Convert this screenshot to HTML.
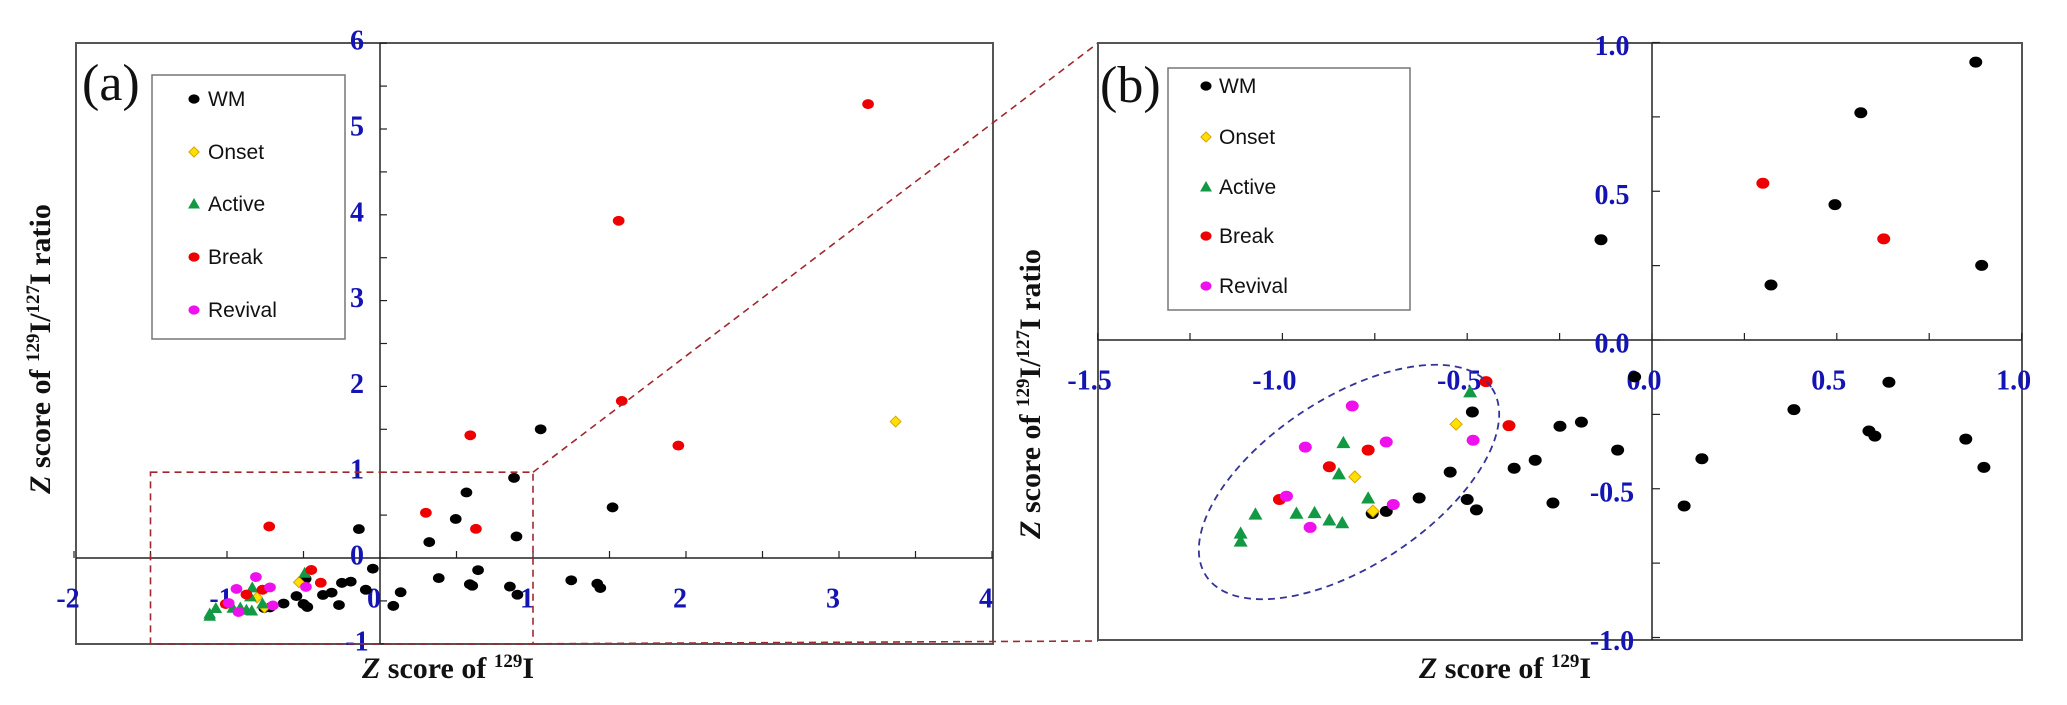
<!DOCTYPE html>
<html><head><meta charset="utf-8">
<style>
html,body{margin:0;padding:0;background:#fff;}
svg{display:block;}
.tl{font-family:"Liberation Serif",serif;font-weight:bold;fill:#1414b4;font-size:28px;text-anchor:middle;dominant-baseline:central;}
.ttl{font-family:"Liberation Serif",serif;font-weight:bold;fill:#111;font-size:30px;}
.lg{font-family:"Liberation Sans",sans-serif;font-size:21px;fill:#111;}
</style></head>
<body>
<svg id="chart" width="2067" height="705" viewBox="0 0 2067 705" xmlns="http://www.w3.org/2000/svg">
<defs>
<clipPath id="clipB"><rect x="1098" y="43" width="924" height="597"/></clipPath>
</defs>
<g id="panelA"></g>
<g id="panelB"></g>
<g id="overlay"></g>
</svg>
<script>
// ---- data (x = Z score of 129I, y = Z score of 129I/127I ratio) ----
const wmX = [0.876,0.565,0.495,0.322,0.892,0.641,0.384,0.587,0.603,0.849,0.898,0.135,0.087,-0.486,-0.249,-0.191,-0.093,-0.316,-0.373,-0.546,-0.630,-0.500,-0.475,-0.268,-0.719,-0.757,-0.138,-0.047,1.05,1.52,1.25,1.42,1.44];
const wmY = [0.934,0.764,0.455,0.185,0.251,-0.142,-0.234,-0.306,-0.323,-0.333,-0.428,-0.399,-0.558,-0.242,-0.290,-0.276,-0.370,-0.404,-0.431,-0.444,-0.531,-0.536,-0.571,-0.548,-0.576,-0.583,0.337,-0.124,1.50,0.59,-0.26,-0.30,-0.35];
const onsetX = [-0.530,-0.755,-0.804,3.37];
const onsetY = [-0.283,-0.575,-0.460,1.59];
const activeX = [-0.492,-0.835,-0.847,-0.768,-0.962,-0.913,-0.873,-0.838,-1.073,-1.113,-1.113];
const activeY = [-0.175,-0.346,-0.451,-0.532,-0.583,-0.581,-0.606,-0.615,-0.586,-0.650,-0.677];
const breakX = [0.300,0.627,-0.449,-0.387,-0.768,-0.873,-1.008,-0.724,3.19,1.56,1.58,1.95,0.59];
const breakY = [0.527,0.340,-0.140,-0.288,-0.370,-0.426,-0.536,0.367,5.29,3.93,1.83,1.31,1.43];
const revivalX = [-0.484,-0.700,-0.811,-0.719,-0.938,-0.989,-0.925];
const revivalY = [-0.337,-0.553,-0.222,-0.343,-0.360,-0.525,-0.630];
const aXTicks = [-2,-1,0,1,2,3,4];
const aYTicks = [-1,0,1,2,3,4,5,6];
const bXTicks = ["-1.5","-1.0","-0.5","0.0","0.5","1.0"];
const bYTicks = ["-1.0","-0.5","0.0","0.5","1.0"];
const legendLabels = ["WM","Onset","Active","Break","Revival"];

const NS = "http://www.w3.org/2000/svg";
function mk(parent, tag, attrs){ const e=document.createElementNS(NS,tag); for(const k in attrs) e.setAttribute(k,attrs[k]); parent.appendChild(e); return e; }

// axis functions
const axA = {x: v => 380 + 153*v, y: v => 558 - 85.8*v};
const axB = {x: v => 1652 + 369.6*v, y: v => 340 - 297.5*v};

function marker(g, kind, cx, cy, s){
  let e;
  if(kind==="WM"){ e=mk(g,"ellipse",{cx:cx,cy:cy,rx:6.5*s,ry:5.5*s,fill:"#000"}); }
  else if(kind==="Break"){ e=mk(g,"ellipse",{cx:cx,cy:cy,rx:6.5*s,ry:5.5*s,fill:"#ee0000"}); }
  else if(kind==="Revival"){ e=mk(g,"ellipse",{cx:cx,cy:cy,rx:6.5*s,ry:5.5*s,fill:"#ee11ee"}); }
  else if(kind==="Onset"){ const r=6*s; e=mk(g,"polygon",{points:`${cx},${cy-r} ${cx+r},${cy} ${cx},${cy+r} ${cx-r},${cy}`,fill:"#ffe000",stroke:"#d9a400","stroke-width":1}); }
  else { const r=7*s; e=mk(g,"polygon",{points:`${cx},${cy-r} ${cx+r},${cy+r*0.75} ${cx-r},${cy+r*0.75}`,fill:"#119944"}); }
  return e;
}

function drawSeries(g, ax, xs, ys, kind, s){
  for(let i=0;i<xs.length;i++){
    const e = marker(g, kind, ax.x(xs[i]), ax.y(ys[i]), s);
    
    
  }
}

function legend(g, x0, y0, w, h, ys, mx, tx){
  const box = mk(g,"rect",{x:x0,y:y0,width:w,height:h,fill:"#fff",stroke:"#777","stroke-width":1.5});
  
  
  legendLabels.forEach((lab,i)=>{
    const m = marker(g, lab, mx, ys[i], 0.85);
    
    
    const t = mk(g,"text",{x:tx,y:ys[i]+7,class:"lg"});
    t.textContent = lab;
    
    
  });
}

function allSeries(g, ax, s){
  drawSeries(g, ax, wmX, wmY, "WM", s);
  drawSeries(g, ax, onsetX, onsetY, "Onset", s);
  drawSeries(g, ax, activeX, activeY, "Active", s);
  drawSeries(g, ax, breakX, breakY, "Break", s);
  drawSeries(g, ax, revivalX, revivalY, "Revival", s);
}

// ---------- Panel A ----------
const A = document.getElementById("panelA");
let r = mk(A,"rect",{x:76,y:43,width:917,height:601,fill:"none",stroke:"#555","stroke-width":2});
 
let l = mk(A,"line",{x1:axA.x(0),y1:43,x2:axA.x(0),y2:644,stroke:"#222","stroke-width":1.5});
 
l = mk(A,"line",{x1:76,y1:axA.y(0),x2:993,y2:axA.y(0),stroke:"#222","stroke-width":1.5});
 
for(let v=-2; v<=4; v+=0.5){ const t=mk(A,"line",{x1:axA.x(v),y1:axA.y(0),x2:axA.x(v),y2:axA.y(0)-7,stroke:"#222","stroke-width":1.2});   }
for(let v=-1; v<=6; v+=0.5){ const t=mk(A,"line",{x1:axA.x(0),y1:axA.y(v),x2:axA.x(0)+7,y2:axA.y(v),stroke:"#222","stroke-width":1.2});   }
aXTicks.forEach(v=>{ const t=mk(A,"text",{x:axA.x(v)-6,y:599,class:"tl"}); t.textContent=String(v);   });
aYTicks.forEach(v=>{ const t=mk(A,"text",{x:357,y:axA.y(v)-2,class:"tl"}); t.textContent=String(v);   });
allSeries(A, axA, 0.9);
legend(A, 152, 75, 193, 264, [99,152,204,257,310], 194, 208);
let tx = mk(A,"text",{x:82,y:100,style:"font-family:'Liberation Serif',serif;font-size:52px;fill:#111"}); tx.textContent="(a)";
 

// ---------- Panel B ----------
const B = document.getElementById("panelB");
r = mk(B,"rect",{x:1098,y:43,width:924,height:597,fill:"none",stroke:"#555","stroke-width":2});
 
l = mk(B,"line",{x1:axB.x(0),y1:43,x2:axB.x(0),y2:640,stroke:"#222","stroke-width":1.5});
 
l = mk(B,"line",{x1:1098,y1:axB.y(0),x2:2022,y2:axB.y(0),stroke:"#222","stroke-width":1.5});
 
for(let v=-1.5; v<=1.0001; v+=0.25){ const t=mk(B,"line",{x1:axB.x(v),y1:axB.y(0),x2:axB.x(v),y2:axB.y(0)-7,stroke:"#222","stroke-width":1.2});   }
for(let v=-1; v<=1.0001; v+=0.25){ const t=mk(B,"line",{x1:axB.x(0),y1:axB.y(v),x2:axB.x(0)+8,y2:axB.y(v),stroke:"#222","stroke-width":1.2});   }
bXTicks.forEach(s=>{ const t=mk(B,"text",{x:axB.x(parseFloat(s))-8,y:381,class:"tl"}); t.textContent=s;   });
bYTicks.forEach(s=>{ const t=mk(B,"text",{x:1612,y:axB.y(parseFloat(s))+4,class:"tl"}); t.textContent=s;   });
const BG = mk(B,"g",{"clip-path":"url(#clipB)"});
 
allSeries(BG, axB, 1.0);
let el = mk(B,"ellipse",{cx:1349,cy:482,rx:171,ry:84,transform:"rotate(-33.3 1349 482)",fill:"none",stroke:"#333399","stroke-width":1.8,"stroke-dasharray":"7 5"});
 
legend(B, 1168, 68, 242, 242, [86,137,187,236,286], 1206, 1219);
tx = mk(B,"text",{x:1100,y:102,style:"font-family:'Liberation Serif',serif;font-size:52px;fill:#111"}); tx.textContent="(b)";
 

// ---------- connectors ----------
const O = document.getElementById("overlay");
const dash = {stroke:"#a02830","stroke-width":1.6,"stroke-dasharray":"7 5",fill:"none"};
let c = mk(O,"rect",Object.assign({x:axA.x(-1.5),y:axA.y(1),width:axA.x(1)-axA.x(-1.5),height:axA.y(-1)-axA.y(1)},dash));
 
c = mk(O,"line",Object.assign({x1:axA.x(1),y1:axA.y(1),x2:1098,y2:43},dash));
 
c = mk(O,"line",Object.assign({x1:axA.x(1),y1:axA.y(-1),x2:1098,y2:641},dash));
 
</script>
<svg width="0" height="0" style="position:absolute"></svg>
<div style="position:absolute;left:0;top:0;width:2067px;height:705px;pointer-events:none;">
<svg width="2067" height="705" style="position:absolute;left:0;top:0">
<text class="ttl" transform="translate(50 349) rotate(-90)" text-anchor="middle"><tspan font-style="italic">Z</tspan> score of <tspan font-size="19" dy="-11">129</tspan><tspan dy="11">I/</tspan><tspan font-size="19" dy="-11">127</tspan><tspan dy="11">I ratio</tspan></text>
<text class="ttl" x="448" y="678" text-anchor="middle"><tspan font-style="italic">Z</tspan> score of <tspan font-size="19" dy="-11">129</tspan><tspan dy="11">I</tspan></text>
<text class="ttl" transform="translate(1040 394) rotate(-90)" text-anchor="middle"><tspan font-style="italic">Z</tspan> score of <tspan font-size="19" dy="-11">129</tspan><tspan dy="11">I/</tspan><tspan font-size="19" dy="-11">127</tspan><tspan dy="11">I ratio</tspan></text>
<text class="ttl" x="1505" y="678" text-anchor="middle"><tspan font-style="italic">Z</tspan> score of <tspan font-size="19" dy="-11">129</tspan><tspan dy="11">I</tspan></text>
</svg>
</div>
</body></html>
